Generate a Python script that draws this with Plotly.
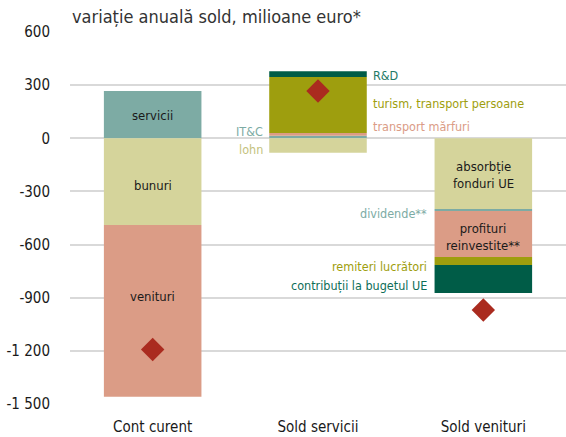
import plotly.graph_objects as go

categories = ["Cont curent", "Sold servicii", "Sold venituri"]

# Cont curent components
cc_names = ["servicii", "bunuri", "venituri"]
cc_values = [267, -489, -970]

# Sold servicii components (bottom to top for positives)
ss_names = ["IT&C", "transport mărfuri", "turism, transport persoane", "R&D", "lohn"]
ss_values = [15, 15, 316, 32, -81]

# Sold venituri components (top to bottom, negatives)
sv_names = ["absorbție fonduri UE", "dividende**", "profituri reinvestite**",
            "remiteri lucrători", "contribuții la bugetul UE"]
sv_values = [-400, -10, -260, -45, -158]

# Totals (diamonds)
totals = [-1192, 267, -969]

tick_vals = [600, 300, 0, -300, -600, -900, -1200, -1500]
tick_text = ["600", "300", "0", "-300", "-600", "-900", "-1 200", "-1 500"]

C_TEAL = "#7DABA4"
C_KHAKI = "#D5D49B"
C_SALMON = "#DB9C86"
C_OLIVE = "#9E9E0E"
C_DKGREEN = "#005C47"
C_RED = "#AA2B1F"

cc_colors = [C_TEAL, C_KHAKI, C_SALMON]
ss_colors = [C_TEAL, C_SALMON, C_OLIVE, C_DKGREEN, C_KHAKI]
sv_colors = [C_KHAKI, C_TEAL, C_SALMON, C_OLIVE, C_DKGREEN]

FONT = "Liberation Sans Narrow, DejaVu Sans Condensed, Arial Narrow, sans-serif"

fig = go.Figure()
for name, val, col in zip(cc_names, cc_values, cc_colors):
    fig.add_bar(x=[categories[0]], y=[val], name=name, marker_color=col,
                marker_line_width=0, hoverinfo="name+y")
for name, val, col in zip(ss_names, ss_values, ss_colors):
    fig.add_bar(x=[categories[1]], y=[val], name=name, marker_color=col,
                marker_line_width=0, hoverinfo="name+y")
for name, val, col in zip(sv_names, sv_values, sv_colors):
    fig.add_bar(x=[categories[2]], y=[val], name=name, marker_color=col,
                marker_line_width=0, hoverinfo="name+y")

fig.add_scatter(x=categories, y=totals, mode="markers",
                marker=dict(symbol="diamond", size=18, color=C_RED),
                name="total")

annotations = []
# labels inside bars
inside = [
    (categories[0], 126, "servicii"),
    (categories[0], -264, "bunuri"),
    (categories[0], -894, "venituri"),
    (categories[2], -210, "absorbție<br>fonduri UE"),
    (categories[2], -557, "profituri<br>reinvestite**"),
]
for x, y, t in inside:
    annotations.append(dict(x=x, y=y, text=t, showarrow=False,
                            font=dict(family=FONT, size=13, color="#1a1a1a")))

# side labels
side = [
    (categories[1], 357, "R&D", "left", 53, "#1F7A66"),
    (categories[1], 199, "turism, transport persoane", "left", 53, C_OLIVE),
    (categories[1], 69, "transport mărfuri", "left", 53, C_SALMON),
    (categories[1], 41, "IT&C", "right", -53, C_TEAL),
    (categories[1], -66, "lohn", "right", -53, "#C4C27E"),
    (categories[2], -422, "dividende**", "right", -54, C_TEAL),
    (categories[2], -726, "remiteri lucrători", "right", -54, C_OLIVE),
    (categories[2], -833, "contribuții la bugetul UE", "right", -54, "#0E6E58"),
]
for x, y, t, anc, shift, col in side:
    annotations.append(dict(x=x, y=y, text=t, showarrow=False, xanchor=anc,
                            xshift=shift, font=dict(family=FONT, size=12.5, color=col)))

annotations.append(dict(x=0, xref="paper", y=1, yref="paper", yanchor="bottom",
                        xanchor="left", yshift=3, showarrow=False,
                        text="variație anuală sold, milioane euro*",
                        font=dict(family=FONT, size=18, color="#333333")))

fig.update_layout(
    width=566, height=437,
    margin=dict(l=70, r=0, t=32, b=33),
    barmode="relative",
    bargap=0.41,
    showlegend=False,
    plot_bgcolor="white",
    paper_bgcolor="white",
    font=dict(family=FONT, size=15, color="#1a1a1a"),
    annotations=annotations,
)
fig.update_yaxes(range=[-1500, 600], tickvals=tick_vals, ticktext=tick_text,
                 showgrid=True, gridcolor="#D9D9D9", gridwidth=2,
                 zeroline=True, zerolinecolor="#D9D9D9", zerolinewidth=2,
                 ticks="outside", ticklen=16, tickcolor="rgba(0,0,0,0)",
                 tickfont=dict(family=FONT, size=15, color="#1a1a1a"))
fig.update_xaxes(showgrid=False, showline=False,
                 ticks="outside", ticklen=9, tickcolor="rgba(0,0,0,0)",
                 tickfont=dict(family=FONT, size=15, color="#1a1a1a"))

fig.write_html("out.html", config={"displayModeBar": False},
               post_script="document.body.style.margin='0';")
